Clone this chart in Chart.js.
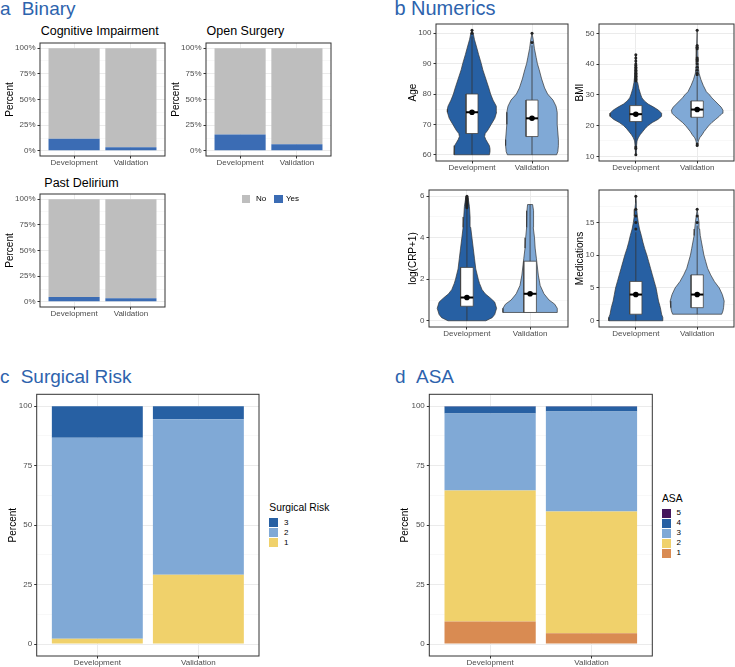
<!DOCTYPE html>
<html><head><meta charset="utf-8">
<script src="https://cdn.jsdelivr.net/npm/chart.js@4.4.1/dist/chart.umd.min.js"></script>
<style>
html,body{margin:0;padding:0;background:#fff;overflow:hidden;width:735px;height:667px;}
body{position:relative;font-family:"Liberation Sans",Arial,sans-serif;}
canvas{position:absolute;}
.t{position:absolute;white-space:nowrap;line-height:1;}
.k{position:absolute;}
</style></head><body>
<script>
// ---------------- DATA ----------------
const groups = ["Development", "Validation"];
const binaryLevels = ["No", "Yes"];
const cognitiveYes = [11.8, 3.5];
const cognitiveNo = [88.2, 96.5];
const surgeryYes = [16.0, 6.4];
const surgeryNo = [84.0, 93.6];
const deliriumYes = [4.8, 3.5];
const deliriumNo = [95.2, 96.5];

const riskLevels = ["1", "2", "3"];
const riskDevelopment = [2.2, 84.5, 13.3];
const riskValidation = [29.1, 65.4, 5.5];

const asaLevels = ["1", "2", "3", "4", "5"];
const asaDevelopment = [9.5, 55.1, 32.3, 3.0, 0.1];
const asaValidation = [4.6, 51.1, 42.1, 2.1, 0.1];

// Age violins (value, half-width in group units)
const ageDevY = [60,61,62,63,64,65,66,67,68,70,72,74,75,76,78,80,82,85,88,90,93,95,98,100,101];
const ageDevW = [0.29,0.30,0.30,0.29,0.26,0.23,0.21,0.22,0.26,0.32,0.38,0.41,0.41,0.40,0.35,0.31,0.28,0.23,0.18,0.155,0.11,0.083,0.04,0.02,0];
const ageValY = [60,61,63,65,70,74,76,78,80,82,85,88,90,92,95,98,100];
const ageValW = [0.41,0.43,0.44,0.44,0.42,0.42,0.40,0.35,0.26,0.21,0.16,0.12,0.09,0.07,0.04,0.02,0];
const ageQ1 = [67, 66], ageMedian = [74, 72], ageQ3 = [80, 78], ageMean = [74, 72];
const ageWhiskerLow = [60, 60], ageWhiskerHigh = [99, 96];
const ageOutliersDev = [100, 101], ageOutliersVal = [97, 100];

// BMI violins
const bmiDevY = [10.5,13,15,16,17,18,19,20,21,22,23,24,25,26,27,28,29,30,32,34,36,40,43];
const bmiDevW = [0.005,0.01,0.02,0.04,0.07,0.11,0.15,0.2,0.27,0.36,0.42,0.42,0.37,0.29,0.2,0.14,0.1,0.08,0.05,0.03,0.02,0.01,0];
const bmiValY = [13.5,15,16,17,18,19,20,21,22,23,24,25,26,27,28,29,30,31,33,35,37,40,46,51];
const bmiValW = [0.005,0.02,0.04,0.08,0.11,0.15,0.19,0.24,0.3,0.36,0.41,0.42,0.39,0.34,0.29,0.24,0.2,0.15,0.1,0.06,0.03,0.015,0.008,0];
const bmiQ1 = [21.3, 22.7], bmiMedian = [23.7, 25.2], bmiQ3 = [26.5, 28.0], bmiMean = [23.7, 25.2];
const bmiWhiskerLow = [13.5, 15], bmiWhiskerHigh = [34, 36];
const bmiOutliersDev = [10.5,12.5,13,34.5,35,35.5,36,36.5,37,37.5,38,38.5,39,39.5,40,41,42,43];
const bmiOutliersVal = [13.5,14,36.5,37,38,39,40,41,41.5,42,45,45.5,46,51];

// log(CRP+1) violins
const crpDevY = [0,0.15,0.3,0.6,0.9,1.1,1.3,1.5,1.8,2.0,2.5,3.0,3.5,4.0,4.5,5.0,5.5,5.9,6.0];
const crpDevW = [0.3,0.4,0.44,0.47,0.44,0.37,0.29,0.24,0.2,0.18,0.14,0.12,0.1,0.08,0.06,0.05,0.04,0.02,0];
const crpValY = [0.4,0.6,0.8,1.0,1.3,1.7,2.2,3.0,3.5,4.0,4.5,5.0,5.3,5.6];
const crpValW = [0.43,0.43,0.39,0.3,0.22,0.16,0.13,0.1,0.08,0.07,0.05,0.06,0.05,0.04];
const crpQ1 = [0.7, 0.4], crpMedian = [1.12, 1.3], crpQ3 = [2.57, 2.87], crpMean = [1.12, 1.3];
const crpWhiskerLow = [0, 0.4], crpWhiskerHigh = [5.4, 5.6];
const crpOutliersDev = [5.45,5.5,5.55,5.6,5.65,5.7,5.75,5.8,5.85,5.9,5.95,6.0];
const crpOutliersVal = [];

// Medications violins
const medDevY = [0,0.5,1,2,3,4,5,6,7,8,9,10,11,12,13,14,15,16,17,18,19];
const medDevW = [0.44,0.44,0.42,0.4,0.37,0.35,0.33,0.3,0.27,0.24,0.21,0.18,0.145,0.115,0.09,0.06,0.04,0.025,0.015,0.008,0];
const medValY = [1,1.5,2,3,4,5,6,7,8,9,10,11,12,13,14,15,16,17];
const medValW = [0.4,0.42,0.43,0.44,0.41,0.36,0.28,0.22,0.17,0.14,0.11,0.09,0.07,0.05,0.04,0.03,0.015,0];
const medQ1 = [1, 2], medMedian = [4, 4], medQ3 = [6, 7], medMean = [4, 4];
const medWhiskerLow = [0, 1], medWhiskerHigh = [13.5, 14.5];
const medOutliersDev = [14, 15, 16, 17, 19];
const medOutliersVal = [15, 16, 17];

// ---------------- STYLE ----------------
const FAM = "'Liberation Sans', Arial, sans-serif";
const C_TITLE = '#2d63ad';
const C_NO = '#bebebe', C_YES = '#3b6cb4';
const C_DARK = '#2760a3', C_LIGHT = '#80a9d6', C_YEL = '#f0d16b', C_ORA = '#d98b52', C_PUR = '#45165c';
const riskColors = [C_YEL, C_LIGHT, C_DARK];
const asaColors = [C_ORA, C_YEL, C_LIGHT, C_DARK, C_PUR];

const framePlugin = { id: 'frame', afterDraw(chart) {
  const a = chart.chartArea, ctx = chart.ctx;
  ctx.save(); ctx.strokeStyle = '#333'; ctx.lineWidth = 1;
  ctx.strokeRect(a.left, a.top, a.right - a.left, a.bottom - a.top); ctx.restore();
}};

function text(str, left, baseline, size, color) {
  const s = document.createElement('div');
  s.className = 't'; s.textContent = str;
  s.style.left = left + 'px'; s.style.top = (baseline - 0.8465 * size) + 'px';
  s.style.fontSize = size + 'px'; s.style.color = color || '#000';
  document.body.appendChild(s);
}
function key(x, y, w, h, color) {
  const d = document.createElement('div'); d.className = 'k';
  Object.assign(d.style, { left: x + 'px', top: y + 'px', width: w + 'px', height: h + 'px', background: color });
  document.body.appendChild(d);
}

const TICKFONT = { family: FAM, size: 8, lineHeight: 1 };
function xAxis(H, stacked) {
  return {
    type: 'linear', min: 0.4, max: 2.6, offset: false, stacked: stacked,
    afterBuildTicks: s => { s.ticks = groups.map((g, i) => ({ value: i + 1 })); },
    afterFit: s => { s.height = H; },
    ticks: { callback: v => groups[v - 1] || '', color: '#4d4d4d', font: TICKFONT, padding: 0, maxRotation: 0, autoSkip: false },
    grid: { color: '#ebebeb', lineWidth: 1, offset: false, tickLength: 2.5, tickColor: '#333', tickWidth: 1 },
    border: { display: false }
  };
}
function yAxis(W, min, max, majors, minors, fmt, title, stacked) {
  const all = majors.concat(minors).sort((a, b) => a - b);
  const isMaj = c => c.tick && majors.includes(c.tick.value);
  return {
    type: 'linear', min, max, stacked: !!stacked,
    afterBuildTicks: s => { s.ticks = all.map(v => ({ value: v })); },
    afterFit: s => { s.width = W; },
    ticks: { callback: v => majors.includes(v) ? fmt(v) : '', color: '#4d4d4d', font: TICKFONT, padding: 2, autoSkip: false },
    grid: { color: c => isMaj(c) ? '#ebebeb' : '#f4f4f4', lineWidth: c => isMaj(c) ? 1 : 0.6,
            tickLength: 2.5, tickColor: c => isMaj(c) ? '#333' : 'rgba(0,0,0,0)', tickWidth: 1 },
    title: { display: true, text: title, color: '#000', font: { family: FAM, size: 10, lineHeight: 1.2 }, padding: 0 },
    border: { display: false }
  };
}

function makeCanvas(g) {
  const PAD = 8, H = 14;
  const left = Math.round(g.tcx - 6);
  const top = Math.round(g.T - PAD);
  const W = g.L - left;
  const c = document.createElement('canvas');
  const width = Math.ceil(g.R + PAD - left), height = Math.ceil(g.B + H - top);
  c.width = width; c.height = height;
  c.style.left = left + 'px'; c.style.top = top + 'px';
  c.style.width = width + 'px'; c.style.height = height + 'px';
  document.body.appendChild(c);
  return { c, W, H, pad: { top: g.T - top, right: width - (g.R - left), left: 0, bottom: 0 } };
}

function baseOptions(k, y, stacked) {
  return {
    responsive: false, animation: false, events: [],
    layout: { padding: k.pad },
    plugins: { legend: { display: false }, tooltip: { enabled: false } },
    scales: { x: xAxis(k.H, stacked), y }
  };
}

function barChart(g, series, colors, ylabelFmt) {
  const k = makeCanvas(g);
  new Chart(k.c, {
    type: 'bar',
    data: { datasets: series.map((s, i) => ({
      data: s.map((v, j) => ({ x: j + 1, y: v })),
      backgroundColor: colors[i], borderWidth: 0, categoryPercentage: 1, barPercentage: 0.9
    })) },
    options: baseOptions(k, yAxis(k.W, -5, 105, [0,25,50,75,100], [12.5,37.5,62.5,87.5], ylabelFmt, 'Percent', true), true),
    plugins: [framePlugin]
  });
}

function violinSets(center, ys, ws, color, q1, med, q3, mean, lo, hi, outl) {
  const right = ys.map((y, i) => ({ x: center + ws[i], y }));
  const left = ys.map((y, i) => ({ x: center - ws[i], y })).reverse();
  const poly = right.concat(left); poly.push(poly[0]);
  const bw = 0.1;
  const box = [{x:center-bw,y:q1},{x:center+bw,y:q1},{x:center+bw,y:q3},{x:center-bw,y:q3},{x:center-bw,y:q1}];
  return [
    { data: poly, showLine: true, fill: 'shape', backgroundColor: color, borderColor: '#333', borderWidth: 0.7, pointRadius: 0, order: 6 },
    { data: [{x:center,y:lo},{x:center,y:hi}], showLine: true, borderColor: '#333', borderWidth: 0.8, pointRadius: 0, order: 5 },
    { data: box, showLine: true, fill: 'shape', backgroundColor: '#fff', borderColor: '#444', borderWidth: 0.8, pointRadius: 0, order: 4 },
    { data: [{x:center-bw,y:med},{x:center+bw,y:med}], showLine: true, borderColor: '#000', borderWidth: 2, pointRadius: 0, order: 3 },
    { data: outl.map(v => ({ x: center, y: v })), showLine: false, pointRadius: 1.5, pointBackgroundColor: '#222', pointBorderWidth: 0, order: 2 },
    { data: [{x:center,y:mean}], showLine: false, pointRadius: 2.8, pointBackgroundColor: '#000', pointBorderWidth: 0, order: 1 }
  ];
}
function vs(center, ys, ws, color, q1, med, q3, mean, lo, hi, outl, idx) {
  return violinSets(center, ys, ws, color, q1[idx], med[idx], q3[idx], mean[idx], lo[idx], hi[idx], outl);
}
function violinChart(g, sets, range, majors, minors, title) {
  const k = makeCanvas(g);
  const opts = baseOptions(k, yAxis(k.W, range[0], range[1], majors, minors, v => String(v), title, false), false);
  new Chart(k.c, { type: 'scatter', data: { datasets: sets }, options: opts, plugins: [framePlugin] });
}

// ---------------- PANEL A ----------------
text('a', 0, 15, 19, C_TITLE); text('Binary', 21.7, 15, 19, C_TITLE);
text('Cognitive Impairment', 40.7, 36, 12.5);
text('Open Surgery', 206.5, 36, 12.5);
text('Past Delirium', 44.3, 187.3, 12.5);
const pct = v => v + '%';
barChart({ L: 40, T: 43, R: 165, B: 156, tcx: 10.3 }, [cognitiveYes, cognitiveNo], [C_YES, C_NO], pct);
barChart({ L: 206, T: 43, R: 331, B: 156, tcx: 176.3 }, [surgeryYes, surgeryNo], [C_YES, C_NO], pct);
barChart({ L: 40, T: 194, R: 165, B: 307, tcx: 10.3 }, [deliriumYes, deliriumNo], [C_YES, C_NO], pct);
key(241.7, 194.5, 8.6, 8.6, C_NO); text(binaryLevels[0], 256, 198.8 + 2.9, 8);
key(274.3, 194.5, 8.6, 8.6, C_YES); text(binaryLevels[1], 286, 198.8 + 2.9, 8);

// ---------------- PANEL B ----------------
text('b', 394.5, 14.5, 20, C_TITLE); text('Numerics', 411, 14.5, 20, C_TITLE);
violinChart({ L: 436, T: 24, R: 568, B: 161, tcx: 413.3 },
  [].concat(vs(1, ageDevY, ageDevW, C_DARK, ageQ1, ageMedian, ageQ3, ageMean, ageWhiskerLow, ageWhiskerHigh, ageOutliersDev, 0),
            vs(2, ageValY, ageValW, C_LIGHT, ageQ1, ageMedian, ageQ3, ageMean, ageWhiskerLow, ageWhiskerHigh, ageOutliersVal, 1)),
  [57.95, 103.05], [60,70,80,90,100], [65,75,85,95], 'Age');
violinChart({ L: 599, T: 24, R: 734, B: 161, tcx: 580 },
  [].concat(vs(1, bmiDevY, bmiDevW, C_DARK, bmiQ1, bmiMedian, bmiQ3, bmiMean, bmiWhiskerLow, bmiWhiskerHigh, bmiOutliersDev, 0),
            vs(2, bmiValY, bmiValW, C_LIGHT, bmiQ1, bmiMedian, bmiQ3, bmiMean, bmiWhiskerLow, bmiWhiskerHigh, bmiOutliersVal, 1)),
  [8.475, 53.025], [10,20,30,40,50], [15,25,35,45], 'BMI');
violinChart({ L: 429, T: 190, R: 568, B: 327, tcx: 413.3 },
  [].concat(vs(1, crpDevY, crpDevW, C_DARK, crpQ1, crpMedian, crpQ3, crpMean, crpWhiskerLow, crpWhiskerHigh, crpOutliersDev, 0),
            vs(2, crpValY, crpValW, C_LIGHT, crpQ1, crpMedian, crpQ3, crpMean, crpWhiskerLow, crpWhiskerHigh, crpOutliersVal, 1)),
  [-0.3, 6.3], [0,2,4,6], [1,3,5], 'log(CRP+1)');
violinChart({ L: 599, T: 190, R: 734, B: 327, tcx: 579.7 },
  [].concat(vs(1, medDevY, medDevW, C_DARK, medQ1, medMedian, medQ3, medMean, medWhiskerLow, medWhiskerHigh, medOutliersDev, 0),
            vs(2, medValY, medValW, C_LIGHT, medQ1, medMedian, medQ3, medMean, medWhiskerLow, medWhiskerHigh, medOutliersVal, 1)),
  [-0.95, 19.95], [0,5,10,15], [2.5,7.5,12.5,17.5], 'Medications');

// ---------------- PANEL C ----------------
text('c', 0, 382.7, 19, C_TITLE); text('Surgical Risk', 20.7, 382.7, 19, C_TITLE);
barChart({ L: 36.7, T: 394.3, R: 259, B: 655.7, tcx: 12.5 },
  riskLevels.map((l, i) => [riskDevelopment[i], riskValidation[i]]), riskColors, v => String(v));
text('Surgical Risk', 269.3, 508.3 + 3.7, 10.3);
riskLevels.slice().reverse().forEach((l, j) => {
  const i = riskLevels.length - 1 - j, top = 518.3 + j * 10;
  key(269.3, top, 9, 9, riskColors[i]); text(l, 284, top + 4.5 + 2.9, 8);
});

// ---------------- PANEL D ----------------
text('d', 395, 382.7, 19, C_TITLE); text('ASA', 416, 382.7, 19, C_TITLE);
barChart({ L: 429.3, T: 394.3, R: 652.3, B: 655.7, tcx: 405 },
  asaLevels.map((l, i) => [asaDevelopment[i], asaValidation[i]]), asaColors, v => String(v));
text('ASA', 662, 499 + 3.7, 10.3);
asaLevels.slice().reverse().forEach((l, j) => {
  const i = asaLevels.length - 1 - j, top = 508.7 + j * 10;
  key(662, top, 9, 9, asaColors[i]); text(l, 676.5, top + 4.5 + 2.9, 8);
});
</script>
</body></html>
